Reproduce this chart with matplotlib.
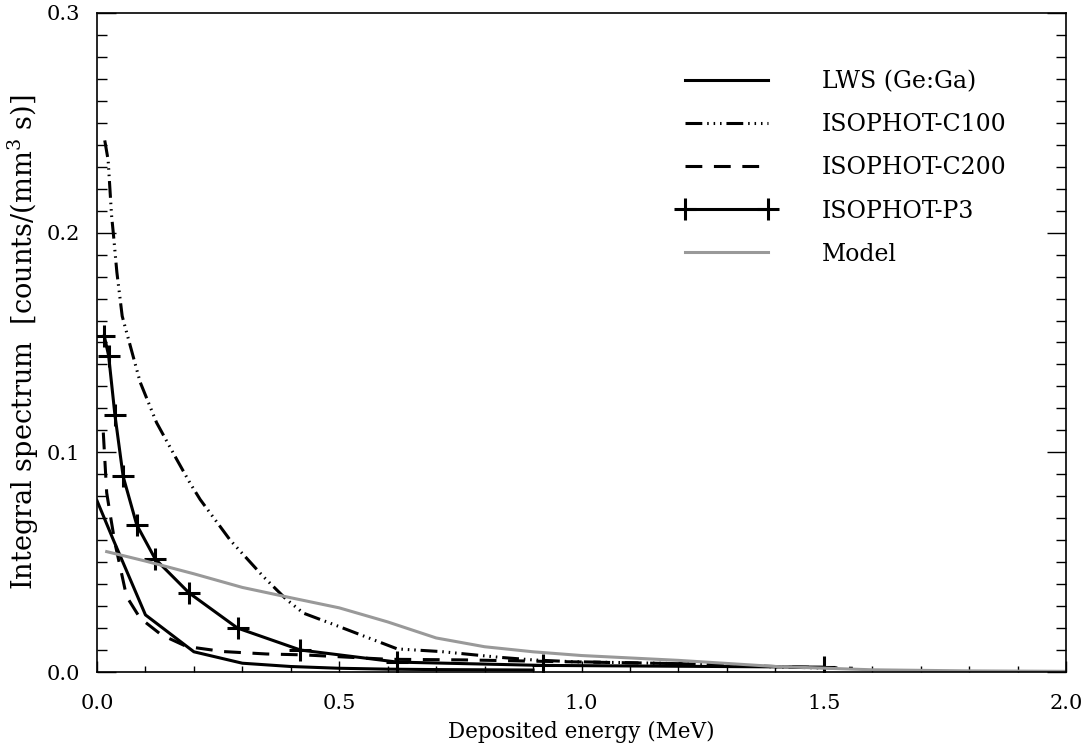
import matplotlib
matplotlib.use("Agg")
import matplotlib.pyplot as plt
from matplotlib.ticker import MultipleLocator, FormatStrFormatter

plt.rcParams['font.family'] = ['DejaVu Serif']
plt.rcParams['mathtext.fontset'] = 'dejavuserif'

# LWS (Ge:Ga)
lws_x = [0.0, 0.034, 0.1, 0.2, 0.3, 0.4, 0.5, 0.6, 0.7, 0.8, 0.9]
lws_y = [0.078, 0.060, 0.026, 0.0092, 0.004, 0.0025, 0.0017, 0.0013, 0.0011, 0.001, 0.0009]

# ISOPHOT-C100
c100_x = [0.016, 0.023, 0.030, 0.034, 0.041, 0.052, 0.089, 0.123, 0.164, 0.192, 0.213,
          0.275, 0.343, 0.391, 0.426, 0.49, 0.62, 0.71, 0.83, 0.90, 0.98, 1.2, 1.39, 1.5]
c100_y = [0.242, 0.233, 0.208, 0.199, 0.182, 0.162, 0.132, 0.1135, 0.097, 0.086, 0.0785,
          0.060, 0.0435, 0.033, 0.0268, 0.0215, 0.0105, 0.0093, 0.0067, 0.0055, 0.0047, 0.0038, 0.0024, 0.0018]

# ISOPHOT-C200
c200_x = [0.013, 0.020, 0.027, 0.037, 0.061, 0.089, 0.133, 0.185, 0.261, 0.35, 0.426,
          0.6, 0.76, 0.96, 1.2, 1.4, 1.56]
c200_y = [0.109, 0.0816, 0.072, 0.0588, 0.0344, 0.0245, 0.0169, 0.0116, 0.0093, 0.0082, 0.0078,
          0.0058, 0.0055, 0.0047, 0.0038, 0.0025, 0.0017]

# ISOPHOT-P3
p3_x = [0.015, 0.024, 0.037, 0.054, 0.082, 0.12, 0.19, 0.29, 0.42, 0.62, 0.92, 1.5]
p3_y = [0.153, 0.144, 0.117, 0.089, 0.067, 0.0515, 0.036, 0.020, 0.010, 0.0045, 0.003, 0.0022]

# Model
model_x = [0.02, 0.1, 0.2, 0.3, 0.4, 0.5, 0.6, 0.7, 0.8, 0.9, 1.0, 1.2, 1.4, 1.6, 1.8, 2.0]
model_y = [0.0548, 0.0505, 0.0447, 0.0385, 0.0338, 0.0292, 0.0228, 0.0155, 0.0115, 0.0092,
           0.0075, 0.0053, 0.0025, 0.0010, 0.0005, 0.0003]

fig = plt.figure(figsize=(10.87, 7.44), dpi=100)
ax = fig.add_axes([97/1087, 1-672/744, 969/1087, 659/744])

lw = 2.2
ax.plot(lws_x, lws_y, color="black", lw=lw, label="LWS (Ge:Ga)")
ax.plot(c100_x, c100_y, color="black", lw=lw, dashes=(5.5, 1.6, 0.5, 1.6, 0.5, 1.6, 0.5, 1.6),
        label="ISOPHOT-C100")
ax.plot(c200_x, c200_y, color="black", lw=lw, dashes=(5.5, 3.8), label="ISOPHOT-C200")
ax.plot(p3_x, p3_y, color="black", lw=lw, marker="+", markersize=16, markeredgewidth=2.2,
        label="ISOPHOT-P3")
ax.plot(model_x, model_y, color="#999999", lw=lw, label="Model")

ax.set_xlim(0, 2.0)
ax.set_ylim(0, 0.3)
ax.xaxis.set_major_locator(MultipleLocator(0.5))
ax.xaxis.set_minor_locator(MultipleLocator(0.1))
ax.yaxis.set_major_locator(MultipleLocator(0.1))
ax.yaxis.set_minor_locator(MultipleLocator(0.01))
ax.xaxis.set_major_formatter(FormatStrFormatter('%.1f'))
ax.yaxis.set_major_formatter(FormatStrFormatter('%.1f'))
ax.tick_params(axis='x', which='major', direction='in', length=8, width=1, pad=16, labelsize=15, top=False)
ax.tick_params(axis='x', which='minor', direction='in', length=4, width=1, top=False)
ax.tick_params(axis='y', which='major', direction='in', length=14, width=1, pad=12, labelsize=15, right=True)
ax.tick_params(axis='y', which='minor', direction='in', length=7, width=1, right=True)
for s in ax.spines.values():
    s.set_linewidth(1.2)

ax.set_xlabel("Deposited energy (MeV)", fontsize=15.5)
ax.xaxis.set_label_coords(0.5, -0.074)
ax.set_ylabel("Integral spectrum  [counts/(mm$^3$ s)]", fontsize=19.5)
ax.yaxis.set_label_coords(-0.058, 0.50)

ax.legend(loc="upper left", bbox_to_anchor=(0.5996, 0.913), frameon=False, fontsize=17,
          handlelength=4.1, handletextpad=2.0, labelspacing=0.85, numpoints=2,
          borderpad=0, borderaxespad=0)

fig.savefig("out.png", dpi=100)
